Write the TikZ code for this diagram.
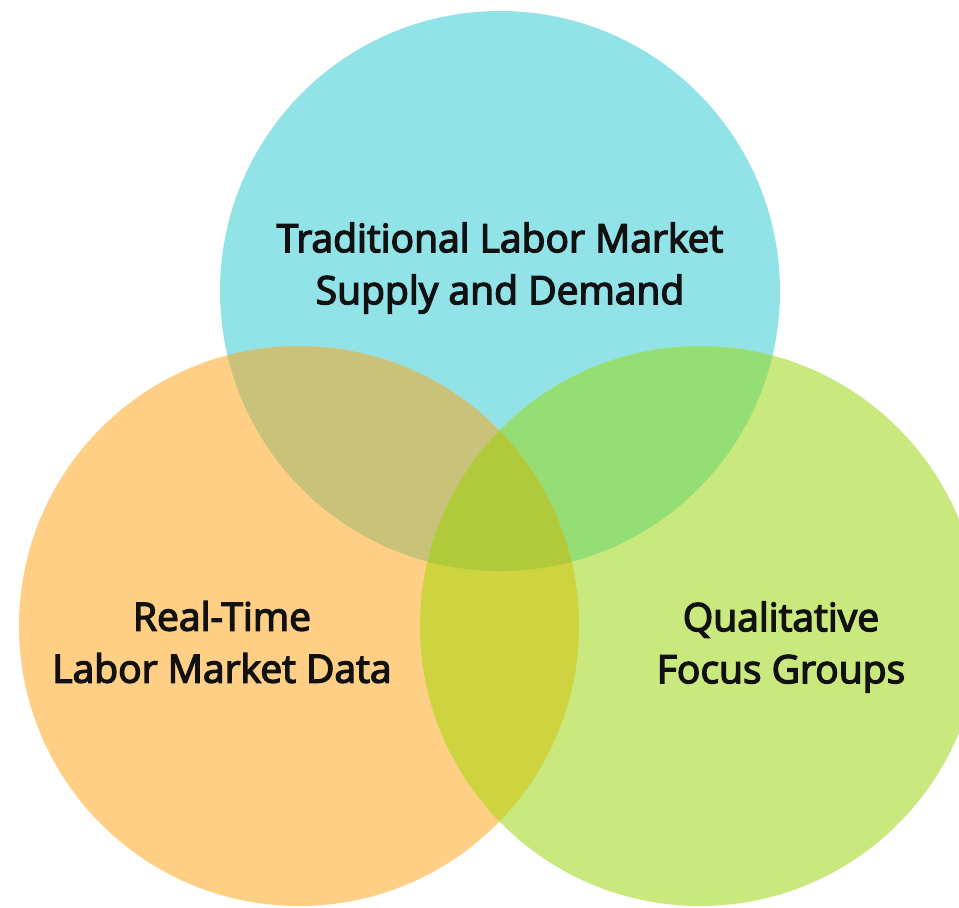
\documentclass[tikz,border=0pt]{standalone}
\usepackage{fontspec}
\setmainfont{Open Sans}
\newfontfamily\lblfont{Open Sans}[FakeBold=3.5]
\definecolor{cT}{HTML}{91E3E8}
\definecolor{cL}{HTML}{FECF85}
\definecolor{cR}{HTML}{C9E87D}
\definecolor{cTL}{HTML}{C9C27A}
\definecolor{cTR}{HTML}{95DE76}
\definecolor{cLR}{HTML}{CDD43F}
\definecolor{cTLR}{HTML}{B0CA3C}
\definecolor{ink}{HTML}{111111}
\tikzset{lbl/.style={font=\lblfont\fontsize{39}{52}\selectfont, text=ink, align=center, inner sep=0pt}}
\begin{document}
\begin{tikzpicture}[x=1pt,y=-1pt]
\useasboundingbox (0,0) rectangle (959,908);
\fill[white] (0,0) rectangle (959,908);
\def\cirT{(500,291) circle[radius=280]}
\def\cirL{(299,626) circle[radius=280]}
\def\cirR{(700,626) circle[radius=280]}
\fill[cT] \cirT;
\fill[cL] \cirL;
\fill[cR] \cirR;
\begin{scope}\clip \cirT; \fill[cTL] \cirL; \end{scope}
\begin{scope}\clip \cirT; \fill[cTR] \cirR; \end{scope}
\begin{scope}\clip \cirL; \fill[cLR] \cirR; \end{scope}
\begin{scope}\clip \cirT; \clip \cirL; \fill[cTLR] \cirR; \end{scope}
\node[lbl] (top) at (500,268) {Traditional Labor Market\\Supply and Demand};
\node[lbl] (left) at (222,642) {Real-Time\\Labor Market Data};
\node[lbl] (right) at (781,647) {Qualitative\\Focus Groups};
\end{tikzpicture}
\end{document}
